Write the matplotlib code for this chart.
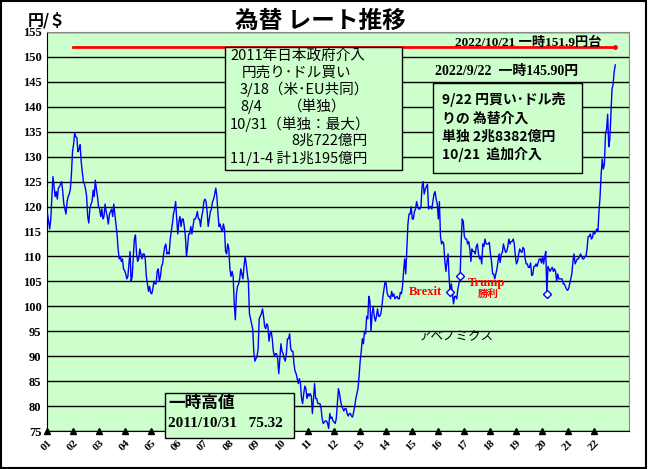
import numpy as np
import matplotlib
matplotlib.use('Agg')
import matplotlib.pyplot as plt
from matplotlib.patches import Rectangle

plt.rcParams['font.family'] = ['Noto Sans CJK JP', 'DejaVu Sans']
SERIF = ['Liberation Serif', 'Noto Sans CJK JP']

# ドル円 (円/$), 半月ごと 2001/01 - 2022/10
usdjpy = [
    # 2001
    118.5, 117.0, 115.5, 117.5, 122.0, 126.0, 124.0, 122.0, 123.0, 121.5, 123.7, 124.0,
    124.5, 125.0, 123.0, 120.5, 119.5, 118.5, 121.0, 122.0, 122.5, 123.5, 126.5, 131.0,
    # 2002
    132.5, 134.8, 134.0, 133.8, 131.0, 131.5, 132.4, 129.0, 127.0, 125.0, 124.5, 123.5,
    122.0, 118.0, 116.7, 119.7, 120.5, 121.0, 123.3, 122.0, 125.3, 123.5, 122.0, 120.0,
    # 2003
    119.5, 118.0, 119.5, 117.5, 118.0, 120.5, 119.0, 118.0, 116.5, 118.5, 119.0, 119.5,
    118.0, 120.5, 118.5, 116.5, 114.5, 111.5, 109.5, 110.0, 109.0, 109.5, 107.5, 107.2,
    # 2004
    106.5, 105.5, 106.0, 108.5, 111.0, 105.0, 106.0, 110.0, 113.5, 114.3, 110.5, 109.0,
    109.5, 111.5, 110.5, 109.5, 110.5, 110.5, 109.5, 106.0, 104.5, 103.0, 104.0, 102.7,
    # 2005
    102.5, 103.5, 105.0, 104.5, 104.5, 107.0, 107.5, 105.0, 106.0, 108.0, 108.5, 110.5,
    112.0, 112.5, 110.5, 110.8, 110.5, 113.5, 115.0, 116.5, 118.5, 119.5, 121.0, 117.5,
    # 2006
    114.5, 117.0, 118.0, 116.0, 117.5, 117.5, 116.0, 114.0, 110.0, 112.0, 114.5, 114.5,
    116.0, 114.5, 116.0, 117.5, 117.5, 118.0, 119.0, 117.5, 117.5, 116.0, 118.0, 119.0,
    # 2007
    121.0, 121.5, 121.0, 119.0, 116.0, 117.5, 119.0, 119.5, 121.0, 121.5, 122.5, 123.7,
    122.0, 118.5, 116.0, 116.5, 115.5, 115.0, 116.5, 115.5, 111.0, 110.5, 112.5, 111.5,
    # 2008
    107.5, 106.0, 107.0, 106.0, 100.5, 97.3, 102.5, 104.0, 104.5, 105.5, 107.5, 106.5,
    105.5, 108.0, 110.0, 108.5, 106.5, 105.0, 98.5, 97.5, 96.5, 95.5, 91.0, 89.0,
    # 2009
    89.5, 90.0, 91.5, 97.5, 98.0, 98.5, 99.5, 98.0, 96.0, 95.5, 96.5, 96.0,
    93.0, 94.5, 95.0, 93.5, 91.0, 90.0, 90.5, 90.5, 89.5, 86.5, 89.5, 92.5,
    # 2010
    91.0, 90.5, 89.5, 89.0, 90.5, 93.5, 93.5, 94.5, 91.5, 91.0, 91.0, 88.5,
    87.0, 86.5, 85.5, 84.5, 85.5, 84.5, 81.5, 80.5, 82.5, 84.0, 83.5, 81.5,
    # 2011
    82.5, 82.0, 82.5, 82.0, 78.5, 81.5, 84.5, 81.5, 81.5, 80.5, 80.5, 80.5,
    79.5, 77.5, 76.5, 76.8, 77.0, 77.0, 76.5, 75.5, 78.5, 77.5, 77.8, 77.0,
    # 2012
    76.8, 76.5, 77.5, 80.5, 83.5, 82.5, 81.0, 80.0, 79.5, 79.0, 79.5, 79.5,
    78.5, 78.0, 78.5, 78.5, 78.0, 77.8, 78.8, 80.0, 81.5, 82.5, 83.5, 86.0,
    # 2013
    89.0, 91.0, 93.5, 92.5, 95.0, 94.5, 98.0, 97.5, 102.0, 101.0, 95.0, 98.5,
    100.0, 98.0, 97.0, 98.0, 99.5, 98.0, 98.0, 98.5, 100.0, 102.0, 103.5, 105.0,
    # 2014
    104.5, 102.5, 102.0, 102.0, 101.5, 103.0, 102.0, 102.5, 101.5, 101.8, 102.0, 101.5,
    101.5, 102.8, 102.5, 104.0, 107.0, 109.5, 106.5, 111.5, 116.5, 118.5, 118.5, 120.0,
    # 2015
    117.5, 117.5, 119.0, 119.5, 121.0, 120.0, 119.5, 119.5, 120.0, 124.0, 125.0, 122.5,
    123.5, 124.0, 124.5, 119.5, 120.0, 120.0, 119.5, 121.0, 122.5, 123.0, 121.5, 120.5,
    # 2016
    117.5, 121.0, 114.0, 112.5, 113.0, 112.5, 109.0, 107.0, 109.0, 110.5, 105.5, 102.5,
    104.5, 102.5, 100.5, 102.0, 102.0, 101.5, 103.5, 104.5, 105.5, 112.5, 117.5, 117.0,
    # 2017
    114.0, 113.5, 113.5, 112.5, 113.0, 111.5, 109.0, 111.5, 111.0, 111.0, 110.5, 112.0,
    112.5, 110.5, 109.5, 110.0, 108.5, 112.5, 112.0, 113.5, 112.5, 112.5, 112.5, 112.8,
    # 2018
    110.5, 109.0, 106.5, 106.5, 105.5, 106.5, 107.5, 109.0, 110.5, 108.8, 110.5, 110.8,
    112.5, 111.5, 110.8, 111.0, 112.0, 113.5, 112.5, 113.0, 113.0, 113.5, 112.5, 110.0,
    # 2019
    108.5, 109.0, 110.5, 111.5, 111.0, 110.8, 111.8, 111.5, 109.5, 108.5, 108.5, 107.8,
    107.8, 108.7, 106.2, 106.3, 108.0, 108.0, 108.5, 108.0, 108.8, 109.5, 109.5, 108.7,
    # 2020
    110.0, 108.5, 110.0, 111.0, 102.5, 108.0, 107.5, 107.0, 107.5, 107.8, 107.0, 107.5,
    107.0, 105.0, 106.5, 105.5, 105.5, 105.5, 105.5, 104.5, 104.5, 104.0, 103.5, 103.2,
    # 2021
    103.5, 104.5, 105.5, 106.5, 109.0, 110.5, 108.5, 109.0, 109.5, 109.5, 110.0, 110.5,
    110.0, 109.5, 109.5, 110.0, 110.0, 111.5, 114.0, 114.0, 114.5, 113.5, 113.8, 115.0,
    # 2022
    114.5, 115.0, 115.5, 115.0, 119.0, 122.0, 126.5, 129.5, 127.5, 128.5, 134.5, 135.5,
    138.5, 132.0, 133.5, 138.5, 143.5, 144.5, 147.0, 148.4,
]
start_year = 2001

# 年ラベル
tick_years = list(range(2001, 2023))
tick_labels = ['%02d' % (y % 100) for y in tick_years]

# イベント (Brexit, Trump勝利, 2020/3)
event_dates = [2016.47, 2016.86, 2020.19]
event_values = [102.8, 106.0, 102.5]

# 2022/10/21 一時151.9円台
peak_level = 151.9
peak_from, peak_to = 2002.0, 2022.8

t = start_year + (np.arange(len(usdjpy)) + 0.5) / 24

fig = plt.figure(figsize=(6.48, 4.69), dpi=100)
fig.patch.set_facecolor('white')
fig.patches.append(Rectangle((0.002, 0.003), 0.995, 0.994, transform=fig.transFigure,
                             fill=False, edgecolor='black', lw=1.5))

ax = fig.add_axes([47 / 648, 1 - 431 / 469, 582 / 648, 399 / 469])
ax.set_facecolor('#ccffcc')
ax.set_xlim(2001.0, 2023.34)
ax.set_ylim(75, 155)

ax.set_yticks(np.arange(75, 156, 5))
ax.set_yticklabels([str(v) for v in range(75, 156, 5)], family=SERIF,
                   fontweight='bold', fontsize=9)
ax.set_xticks(tick_years)
ax.set_xticklabels(tick_labels, rotation=45, ha='right', rotation_mode='anchor',
                   family=SERIF, fontweight='bold', fontsize=8)
ax.tick_params(axis='both', length=0)
ax.tick_params(axis='y', pad=4)
ax.tick_params(axis='x', pad=5)
ax.set_axisbelow(True)
ax.yaxis.grid(True, color='black', lw=1)
for side in ['top', 'right']:
    ax.spines[side].set_color('#888888')
for side in ['left', 'bottom']:
    ax.spines[side].set_color('black')

# 年の目盛り (三角)
ax.plot(tick_years, [75] * len(tick_years), '^', color='black', ms=4,
        clip_on=False, zorder=3.5)

ax.plot(t, usdjpy, color='#0000ff', lw=1.0, zorder=3)
ax.plot(event_dates, event_values, 'D', mfc='white', mec='#0000ff', ms=4.5,
        mew=1, zorder=4)

ax.plot([peak_from, peak_to], [peak_level, peak_level], color='#ff0000', lw=2, zorder=2)
ax.plot([peak_to], [peak_level], 'o', color='#ff0000', ms=2.5, zorder=2)


def box(x0, y0, x1, y1):
    ax.add_patch(Rectangle((x0, y0), x1 - x0, y1 - y0, facecolor='#ccffcc',
                           edgecolor='black', lw=1, zorder=4, clip_on=False))


# 2011年介入
box(2007.83, 127.35, 2014.63, 152.0)
jp = dict(fontsize=10.5, va='center', ha='left', zorder=5)
ax.text(2008.03, 150.2, '2011年日本政府介入', **jp)
ax.text(2008.47, 146.9, '円売り･ドル買い', **jp)
ax.text(2008.41, 143.5, '3/18（米･EU共同）', **jp)
ax.text(2008.41, 140.0, '8/4', **jp)
ax.text(2010.25, 140.0, '（単独）', **jp)
ax.text(2008.03, 136.6, '10/31（単独：最大）', **jp)
ax.text(2010.37, 133.1, '8兆722億円', **jp)
ax.text(2008.03, 129.6, '11/1-4 計1兆195億円', **jp)

# 2022年介入
box(2015.82, 126.74, 2021.54, 144.78)
jpb = dict(fontsize=10, fontweight='bold', va='center', ha='left', zorder=5)
ax.text(2016.16, 141.4, '9/22 円買い･ドル売', **jpb)
ax.text(2016.16, 137.7, 'りの 為替介入', **jpb)
ax.text(2016.16, 134.0, '単独 2兆8382億円', **jpb)
ax.text(2016.16, 130.35, '10/21  追加介入', **jpb)

ax.text(2016.66, 152.9, '2022/10/21 一時151.9円台', family=SERIF, fontweight='bold',
        fontsize=9.5, va='center', ha='left', zorder=5)
ax.text(2015.9, 147.0, '2022/9/22  一時145.90円', family=SERIF, fontweight='bold',
        fontsize=10, va='center', ha='left', zorder=5)

# 一時高値
box(2005.53, 73.64, 2010.48, 82.66)
ax.text(2005.64, 80.65, '一時高値', fontsize=12, fontweight='bold', va='center',
        ha='left', zorder=5)
ax.text(2005.64, 76.6, '2011/10/31   75.32', family=SERIF, fontweight='bold',
        fontsize=11, va='center', ha='left', zorder=5, clip_on=False)

# イベントラベル
ax.text(2015.51, 102.9, 'Brexit', family=SERIF, fontweight='bold', fontsize=9,
        color='#ff0000', va='center', ha='center', zorder=5)
ax.text(2017.85, 104.7, 'Trump', family=SERIF, fontweight='bold', fontsize=9,
        color='#ff0000', va='center', ha='center', zorder=5)
ax.text(2017.93, 102.4, '勝利', fontweight='bold', fontsize=7.5,
        color='#ff0000', va='center', ha='center', zorder=5)
ax.text(2016.7, 93.9, 'アベノミクス', fontsize=9, va='center', ha='center', zorder=5)

fig.text(0.495, 0.955, '為替 レート推移', fontsize=17, fontweight='bold',
         ha='center', va='center')
fig.text(0.043, 0.957, '円/＄', fontsize=11.5, fontweight='bold', ha='left',
         va='center')

fig.savefig('out.png', dpi=100)
